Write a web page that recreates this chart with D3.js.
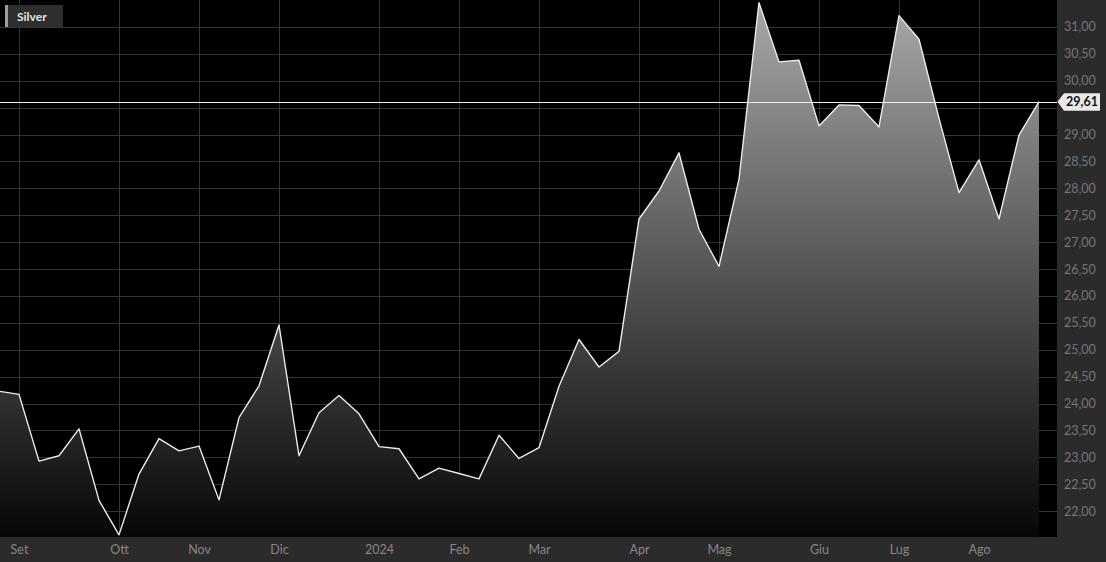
<!DOCTYPE html>
<html>
<head>
<meta charset="utf-8">
<script src="https://cdn.jsdelivr.net/npm/d3@7"></script>
<style>
  body { margin: 0; background: #000; }
  svg { display: block; font-family: Lato, "Open Sans", sans-serif; }
</style>
</head>
<body>
<div class="chart-container"></div>
<script>

// weekly closes (friday)
const silverPrices = [
    24.23, 24.17, 22.93, 23.03, 23.53, 22.20, 21.56, 22.69, 23.35, 23.12,
    23.21, 22.21, 23.74, 24.33, 25.46, 23.03, 23.83, 24.15, 23.81, 23.20,
    23.16, 22.60, 22.80, 22.70, 22.60, 23.41, 22.98, 23.18, 24.32, 25.19,
    24.68, 24.97, 27.43, 27.95, 28.66, 27.24, 26.55, 28.17, 31.45, 30.35,
    30.38, 29.16, 29.55, 29.54, 29.14, 31.21, 30.77, 29.30, 27.92, 28.53,
    27.43, 28.99, 29.61
];
const firstWeek = "2023-08-25";
const lastWeek = "2024-08-23";
const monthLabels = ["Set", "Ott", "Nov", "Dic", "2024", "Feb", "Mar", "Apr", "Mag", "Giu", "Lug", "Ago"];
const yTicks = [22, 22.5, 23, 23.5, 24, 24.5, 25, 25.5, 26, 26.5, 27, 27.5, 28, 28.5, 29, 29.5, 30, 30.5, 31];
const seriesName = "Silver";
const lastPrice = 29.61;

// sizes
const W = 1106, H = 562;
const plotW = 1057, plotH = 537;

const parse = d3.timeParse("%Y-%m-%d");
const weeks = d3.timeFriday.range(parse(firstWeek), d3.timeDay.offset(parse(lastWeek), 1));
const data = weeks.map((d, i) => ({ date: d, value: silverPrices[i] }));

// first friday of every month gets a label
const tickDates = weeks.filter((d, i) => i > 0 && d.getMonth() != weeks[i - 1].getMonth());

// italian style numbers 29,61
const it = d3.formatLocale({ decimal: ",", thousands: ".", grouping: [3], currency: ["€", ""] });
const fmt = it.format(".2f");

const svg = d3.select(".chart-container")
    .append("svg")
    .attr("width", W)
    .attr("height", H);

const defs = svg.append("defs");
defs.append("clipPath").attr("id", "plot-clip")
    .append("rect").attr("width", plotW).attr("height", plotH);

const grad = defs.append("linearGradient")
    .attr("id", "area-grad")
    .attr("gradientUnits", "userSpaceOnUse")
    .attr("x1", 0).attr("y1", 0).attr("x2", 0).attr("y2", plotH);
grad.append("stop").attr("offset", "0%").attr("stop-color", "#a8a8a8");
grad.append("stop").attr("offset", "55%").attr("stop-color", "#4e4e4e");
grad.append("stop").attr("offset", "100%").attr("stop-color", "#070707");

// scales
const x = d3.scaleTime()
    .domain([parse(firstWeek), parse(lastWeek)])
    .range([-1, 1039]);

const y = d3.scaleLinear()
    .domain([21.52, 31.5])
    .range([plotH, 0]);

svg.append("rect").attr("width", W).attr("height", H).attr("fill", "#000");

// grid
const grid = svg.append("g").attr("class", "grid");
grid.selectAll("line.h")
    .data(yTicks)
    .join("line")
    .attr("class", "h")
    .attr("x1", 0).attr("x2", plotW)
    .attr("y1", d => Math.round(y(d)) + 0.5)
    .attr("y2", d => Math.round(y(d)) + 0.5)
    .attr("stroke", "#343434");
grid.selectAll("line.v")
    .data(tickDates)
    .join("line")
    .attr("class", "v")
    .attr("x1", d => Math.round(x(d)) + 0.5)
    .attr("x2", d => Math.round(x(d)) + 0.5)
    .attr("y1", 0).attr("y2", plotH)
    .attr("stroke", "#343434");

// area + line
const plot = svg.append("g").attr("clip-path", "url(#plot-clip)");

const area = d3.area()
    .x(d => x(d.date))
    .y0(plotH)
    .y1(d => y(d.value));

const line = d3.line()
    .x(d => x(d.date))
    .y(d => y(d.value));

plot.append("path")
    .datum(data)
    .attr("d", area)
    .attr("fill", "url(#area-grad)");

plot.append("path")
    .datum(data)
    .attr("d", line)
    .attr("fill", "none")
    .attr("stroke", "#ececec")
    .attr("stroke-width", 1.4)
    .attr("stroke-linejoin", "round");

// current price line
svg.append("line")
    .attr("x1", 0).attr("x2", plotW)
    .attr("y1", Math.round(y(lastPrice)) + 0.5)
    .attr("y2", Math.round(y(lastPrice)) + 0.5)
    .attr("stroke", "#f2f2f2")
    .attr("stroke-width", 1.2);

// right axis panel
svg.append("rect")
    .attr("x", plotW).attr("y", 0)
    .attr("width", W - plotW).attr("height", H)
    .attr("fill", "#2b2b2b");

// bottom axis panel
svg.append("rect")
    .attr("x", 0).attr("y", plotH)
    .attr("width", W).attr("height", H - plotH)
    .attr("fill", "#2b2b2b");

// labels hidden behind the price tag are left out (29,50)
const yLabelTicks = yTicks.filter(d => Math.abs(y(d) - y(lastPrice)) > 12);

const yAxis = svg.append("g")
    .attr("class", "y-axis")
    .attr("transform", "translate(" + plotW + ",0)")
    .call(d3.axisRight(y).tickValues(yLabelTicks).tickFormat(fmt).tickSize(0).tickPadding(7));

yAxis.select(".domain").remove();
yAxis.selectAll("text")
    .attr("fill", "#767676")
    .style("font-size", "12.5px")
    .style("font-family", "Lato, sans-serif");

const xAxis = svg.append("g")
    .attr("class", "x-axis")
    .attr("transform", "translate(0," + plotH + ")")
    .call(d3.axisBottom(x).tickValues(tickDates).tickFormat((d, i) => monthLabels[i]).tickSize(0).tickPadding(8));

xAxis.select(".domain").remove();
xAxis.selectAll("text")
    .attr("fill", "#878787")
    .style("font-size", "12.5px")
    .style("font-family", "Lato, sans-serif");

// price tag with arrow
const tagY = y(lastPrice);
const tag = svg.append("g").attr("class", "price-tag");
tag.append("path")
    .attr("d", "M" + (plotW + 0.5) + "," + tagY +
        " L" + (plotW + 7) + "," + (tagY - 8.5) +
        " L" + (plotW + 43) + "," + (tagY - 8.5) +
        " L" + (plotW + 43) + "," + (tagY + 9) +
        " L" + (plotW + 7) + "," + (tagY + 9) + " Z")
    .attr("fill", "#e9e9e9");
tag.append("text")
    .attr("x", plotW + 25)
    .attr("y", tagY + 4.5)
    .attr("text-anchor", "middle")
    .attr("fill", "#111")
    .style("font-size", "12.5px")
    .style("font-weight", "bold")
    .text(fmt(lastPrice));

// legend top left
const legend = svg.append("g").attr("class", "legend");
legend.append("rect")
    .attr("x", 5).attr("y", 5).attr("width", 58).attr("height", 22)
    .attr("fill", "#2e2e2e");
legend.append("rect")
    .attr("x", 5).attr("y", 5).attr("width", 3).attr("height", 22)
    .attr("fill", "#9d9d9d");
legend.append("text")
    .attr("x", 17).attr("y", 20.5)
    .attr("fill", "#e6e6e6")
    .style("font-size", "12px")
    .style("font-weight", "bold")
    .text(seriesName);

</script>
</body>
</html>
